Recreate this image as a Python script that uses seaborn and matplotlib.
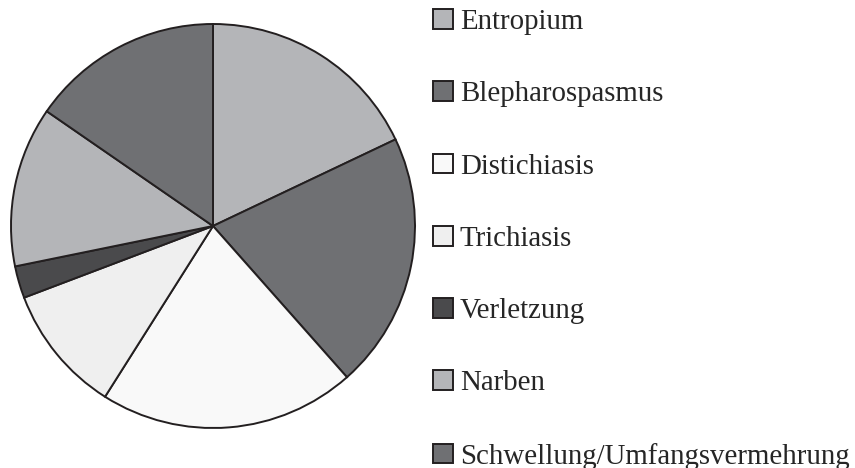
import seaborn as sns
import matplotlib.pyplot as plt

# Datos (número de casos)
labels = ['Entropium', 'Blepharospasmus', 'Distichiasis', 'Trichiasis',
          'Verletzung', 'Narben', 'Schwellung/Umfangsvermehrung']
counts = [7, 8, 8, 4, 1, 5, 6]
colors = ['#b4b5b8', '#6f7073', '#f9f9f9', '#efefef',
          '#4a4a4c', '#b4b5b8', '#6f7073']

sns.set_theme(style="white")
plt.rcParams['font.family'] = ['Liberation Serif', 'DejaVu Serif']

fig = plt.figure(figsize=(8.55, 4.68), dpi=100)
ax = fig.add_axes([11 / 855, 40 / 468, 404 / 855, 404 / 468])

wedges, _ = ax.pie(counts, colors=colors, startangle=90, counterclock=False,
                   wedgeprops={'edgecolor': '#231f20', 'linewidth': 1.4,
                               'clip_on': False})
ax.set_xlim(-1, 1)
ax.set_ylim(-1, 1)
ax.set_aspect('equal')

fig.legend(wedges, labels, loc='upper left',
           bbox_to_anchor=(433 / 855, 1 - 9 / 468),
           frameon=False, fontsize=20.8, handlelength=0.68, handleheight=0.68,
           handletextpad=0.25, labelspacing=1.6, borderpad=0,
           borderaxespad=0)

plt.savefig('out.png', dpi=100)
